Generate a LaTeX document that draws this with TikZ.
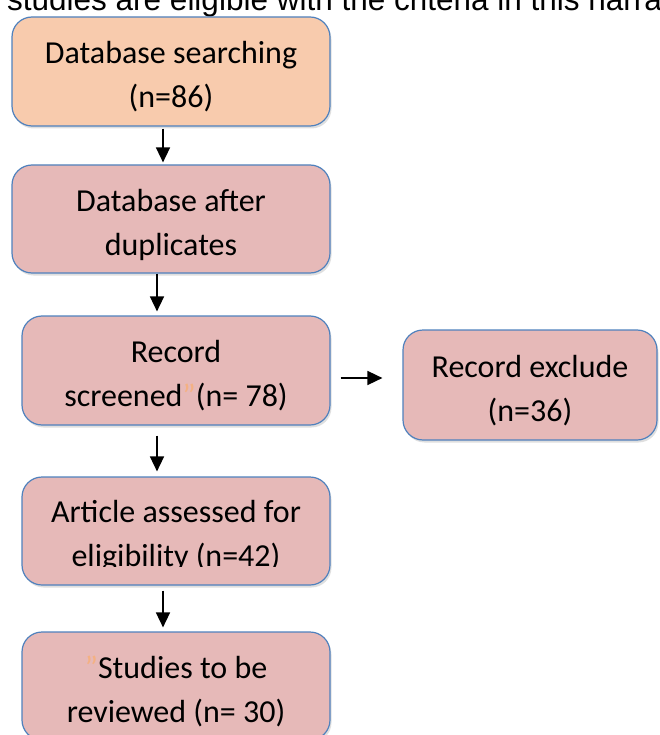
\documentclass[tikz,border=0pt]{standalone}
\usepackage{fontspec}
\setmainfont{Carlito}
\newfontfamily\bodyfont{Liberation Sans}
\usetikzlibrary{arrows.meta,shadows}

\definecolor{peach}{HTML}{F8CBAD}
\definecolor{rose}{HTML}{E6B9B8}
\definecolor{boxline}{HTML}{4F81BD}
\definecolor{quotecol}{HTML}{F4B183}

\begin{document}
\begin{tikzpicture}[x=1pt, y=-1pt, >={Triangle[length=15pt,width=14pt]},
  box/.style={draw=boxline, line width=1.2pt, rounded corners=20pt, inner sep=0pt,
    drop shadow={opacity=0.25, shadow xshift=1.5pt, shadow yshift=-2.5pt}},
  boxtext/.style={align=center, inner sep=0pt, yshift=-5.5pt,
    font=\fontsize{32}{44}\selectfont},
  flow/.style={->, line width=1.6pt}]

\useasboundingbox (0,0) rectangle (659,735);
\clip (0,0) rectangle (659,735);

% Running text cut at the top
\node[anchor=base west, inner sep=0pt, font=\bodyfont\fontsize{31.5}{34}\selectfont]
  (intro) at (7,11) {studies are eligible with the criteria in this narrative};

% Boxes
\node[box, fill=peach, minimum width=318pt, minimum height=109pt,
  label={[boxtext]center:Database searching\\(n=86)}] (search) at (171,71.5) {};
\node[box, fill=rose, minimum width=318pt, minimum height=108pt,
  label={[boxtext]center:Database after\\duplicates}] (dup) at (171,219) {};
\node[box, fill=rose, minimum width=308pt, minimum height=109pt,
  label={[boxtext]center:Record\\screened{\color{quotecol}"}(n= 78)}] (screen) at (176,370.5) {};
\node[box, fill=rose, minimum width=254pt, minimum height=110pt,
  label={[boxtext]center:Record exclude\\(n=36)}] (exclude) at (530,385) {};
\node[box, fill=rose, minimum width=308pt, minimum height=108pt] (article) at (176,531) {};
\node[box, fill=rose, minimum width=308pt, minimum height=108pt,
  label={[boxtext]center:{\color{quotecol}"}Studies to be\\reviewed (n= 30)}] (review) at (176,686) {};

% Text of the eligibility box, cut at the bottom
\begin{scope}
  \clip (22,478) rectangle (330,566);
  \node[boxtext] (articletext) at (article.center) {Article assessed for\\eligibility (n=42)};
\end{scope}

% Arrow columns
\coordinate (c1) at (163,0);
\coordinate (c2) at (157,0);
\coordinate (r1) at (0,378);

% Arrows
\draw[flow, shorten <=2pt, shorten >=2pt] (search.south -| c1) -- (dup.north -| c1);
\draw[flow, shorten >=4pt] (dup.south -| c2) -- (screen.north -| c2);
\draw[flow, shorten <=10pt, shorten >=5pt] (screen.south -| c2) -- (article.north -| c2);
\draw[flow, shorten <=5pt, shorten >=4pt] (article.south -| c1) -- (review.north -| c1);
\draw[flow, shorten <=10pt, shorten >=20pt] (screen.east |- r1) -- (exclude.west |- r1);

\end{tikzpicture}
\end{document}
